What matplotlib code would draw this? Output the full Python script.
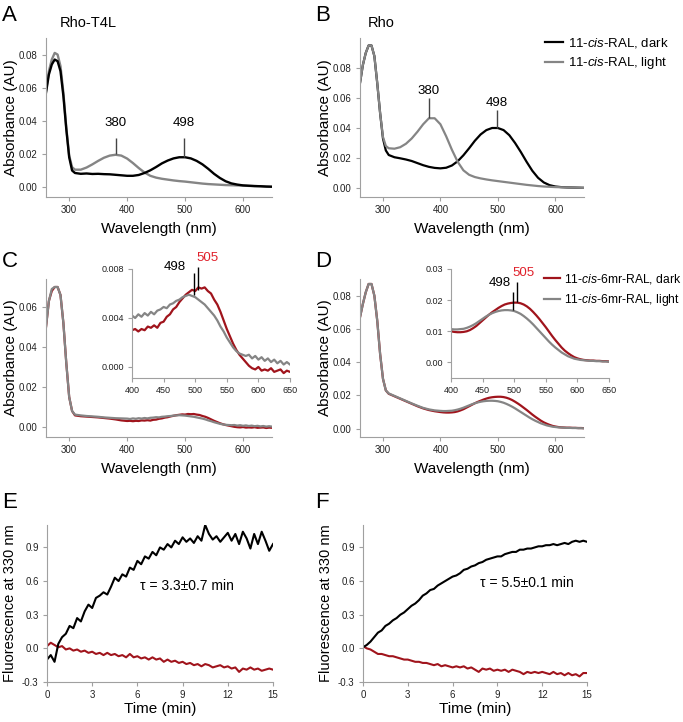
import numpy as np
import matplotlib
matplotlib.use("Agg")
import matplotlib.pyplot as plt

plt.rcParams['font.family'] = ['Liberation Sans', 'DejaVu Sans']
plt.rcParams['mathtext.fontset'] = 'custom'
plt.rcParams['mathtext.rm'] = 'Liberation Sans'
plt.rcParams['mathtext.it'] = 'Liberation Sans:italic'

# ---------------- data ----------------
wl45 = [260, 265, 270, 275, 280, 285, 290, 295, 300, 305, 310,
        320, 330, 340, 350, 360, 370, 380, 390, 400, 410, 420, 430, 440, 450,
        460, 470, 480, 490, 500, 510, 520, 530, 540, 550, 560, 570, 580, 590,
        600, 610, 620, 630, 640, 650]

A_dark = [0.057, 0.068, 0.074, 0.077, 0.076, 0.070, 0.055, 0.035, 0.018, 0.010, 0.0085,
          0.0080, 0.0082, 0.0079, 0.0080, 0.0078, 0.0077, 0.0074, 0.0071, 0.0068, 0.0068,
          0.0073, 0.0085, 0.0101, 0.0121, 0.0143, 0.0160, 0.0173, 0.0180, 0.0180, 0.0173,
          0.0158, 0.0137, 0.0110, 0.0080, 0.0055, 0.0035, 0.0022, 0.0015, 0.0010, 0.0008,
          0.0006, 0.0005, 0.0003, 0.0002]
A_light = [0.058, 0.070, 0.077, 0.081, 0.080, 0.073, 0.057, 0.036, 0.019, 0.012, 0.0105,
           0.0105, 0.0118, 0.0137, 0.0158, 0.0177, 0.0190, 0.0195, 0.0190, 0.0172, 0.0145,
           0.0115, 0.0088, 0.0068, 0.0057, 0.0050, 0.0045, 0.0040, 0.0036, 0.0033, 0.0029,
           0.0025, 0.0021, 0.0018, 0.0016, 0.0014, 0.0012, 0.0011, 0.0010, 0.0009, 0.0007,
           0.0006, 0.0005, 0.0003, 0.0002]

B_dark = [0.070, 0.082, 0.090, 0.095, 0.095, 0.088, 0.070, 0.050, 0.033, 0.025, 0.022,
          0.0205, 0.0198, 0.0190, 0.0180, 0.0166, 0.0152, 0.0141, 0.0134, 0.0131, 0.0135,
          0.0150, 0.0178, 0.0218, 0.0265, 0.0315, 0.0357, 0.0386, 0.0400, 0.0400, 0.0386,
          0.0352, 0.0300, 0.0240, 0.0175, 0.0115, 0.0068, 0.0037, 0.0019, 0.0010, 0.0006,
          0.0004, 0.0003, 0.0002, 0.0001]
B_light = [0.070, 0.082, 0.090, 0.095, 0.095, 0.088, 0.070, 0.050, 0.034, 0.028, 0.0265,
           0.0262, 0.0272, 0.0295, 0.0330, 0.0375, 0.0425, 0.0465, 0.0465, 0.0425, 0.0345,
           0.0255, 0.0175, 0.0118, 0.0088, 0.0073, 0.0064, 0.0057, 0.0051, 0.0046, 0.0041,
           0.0036, 0.0031, 0.0026, 0.0021, 0.0017, 0.0013, 0.0010, 0.0008, 0.0006, 0.0005,
           0.0004, 0.0003, 0.0002, 0.0001]

wl70 = ([260, 265, 270, 275, 280, 285, 290, 295, 300, 305, 310,
         320, 330, 340, 350, 360, 370, 380, 390] +
        [400 + 5 * i for i in range(51)])

C_dark = [0.050, 0.063, 0.068, 0.070, 0.070, 0.066, 0.052, 0.032, 0.015, 0.008, 0.0058,
          0.0054, 0.0052, 0.0050, 0.0048, 0.0045, 0.0042, 0.0038, 0.0033,
          0.0030, 0.0031, 0.0029, 0.0031, 0.0030, 0.0033, 0.0032, 0.0034, 0.0032, 0.0036,
          0.0037, 0.0041, 0.0043, 0.0047, 0.0049, 0.0053, 0.0056, 0.0059, 0.0061, 0.0063,
          0.0062, 0.0065, 0.0064, 0.0065, 0.0062, 0.0060, 0.0055, 0.0051, 0.0045, 0.0038,
          0.0031, 0.0025, 0.0019, 0.0014, 0.0010, 0.0007, 0.0004, 0.0001, -0.0001, -0.0002,
          0.0000, -0.0003, -0.0002, -0.0003, -0.0001, -0.0004, -0.0003, -0.0002, -0.0005, -0.0003,
          -0.0004]
C_light = [0.050, 0.063, 0.069, 0.070, 0.070, 0.066, 0.052, 0.032, 0.015, 0.008, 0.0062,
           0.0058, 0.0055, 0.0053, 0.0051, 0.0048, 0.0046, 0.0044, 0.0043,
           0.0042, 0.0040, 0.0043, 0.0041, 0.0044, 0.0042, 0.0045, 0.0043, 0.0046, 0.0047,
           0.0049, 0.0048, 0.0051, 0.0052, 0.0054, 0.0055, 0.0057, 0.0058, 0.0059, 0.0058,
           0.0057, 0.0055, 0.0053, 0.0051, 0.0048, 0.0045, 0.0042, 0.0038, 0.0033, 0.0029,
           0.0024, 0.0020, 0.0016, 0.0013, 0.0011, 0.0010, 0.0009, 0.0010, 0.0007, 0.0009,
           0.0006, 0.0008, 0.0005, 0.0007, 0.0004, 0.0006, 0.0003, 0.0005, 0.0002, 0.0004,
           0.0002]

D_dark = [0.067, 0.075, 0.082, 0.087, 0.087, 0.080, 0.065, 0.045, 0.030, 0.023, 0.021,
          0.0195, 0.0180, 0.0165, 0.0150, 0.0135, 0.0122, 0.0112, 0.0105,
          0.0100, 0.0098, 0.0097, 0.0097, 0.0098, 0.0100, 0.0104, 0.0110, 0.0117, 0.0126,
          0.0135, 0.0144, 0.0153, 0.0161, 0.0168, 0.0175, 0.0181, 0.0186, 0.0189, 0.0191,
          0.0192, 0.0192, 0.0190, 0.0186, 0.0180, 0.0172, 0.0162, 0.0151, 0.0139, 0.0126,
          0.0113, 0.0099, 0.0085, 0.0072, 0.0060, 0.0048, 0.0038, 0.0030, 0.0023, 0.0017,
          0.0013, 0.0010, 0.0008, 0.0007, 0.0006, 0.0006, 0.0005, 0.0005, 0.0004, 0.0004,
          0.0003]
D_light = [0.067, 0.075, 0.082, 0.087, 0.087, 0.080, 0.065, 0.045, 0.030, 0.023, 0.0212,
           0.0197, 0.0182, 0.0167, 0.0152, 0.0138, 0.0125, 0.0116, 0.0110,
           0.0107, 0.0106, 0.0106, 0.0107, 0.0108, 0.0111, 0.0115, 0.0120, 0.0126, 0.0133,
           0.0140, 0.0147, 0.0153, 0.0158, 0.0162, 0.0165, 0.0167, 0.0168, 0.0168, 0.0167,
           0.0165, 0.0161, 0.0156, 0.0149, 0.0141, 0.0132, 0.0122, 0.0111, 0.0100, 0.0089,
           0.0078, 0.0067, 0.0057, 0.0048, 0.0040, 0.0032, 0.0026, 0.0020, 0.0016, 0.0012,
           0.0010, 0.0008, 0.0007, 0.0006, 0.0005, 0.0005, 0.0004, 0.0004, 0.0003, 0.0003,
           0.0002]

time = [0.25 * i for i in range(61)]
E_active = [-0.10, -0.06, -0.12, 0.04, 0.10, 0.13, 0.20, 0.18, 0.27, 0.24, 0.33, 0.39,
            0.36, 0.45, 0.47, 0.50, 0.48, 0.55, 0.63, 0.60, 0.66, 0.64, 0.72, 0.70,
            0.78, 0.75, 0.82, 0.80, 0.86, 0.83, 0.90, 0.88, 0.93, 0.90, 0.96, 0.93,
            0.99, 0.95, 0.98, 0.94, 1.00, 0.96, 1.10, 1.02, 0.97, 1.00, 0.95, 0.99,
            1.03, 0.96, 1.02, 0.93, 1.04, 0.98, 0.89, 1.02, 0.93, 1.04, 0.96, 0.87, 0.93]
E_dark = [0.02, 0.05, 0.03, 0.01, 0.02, -0.01, 0.00, -0.02, -0.01, -0.03, -0.02, -0.04,
          -0.03, -0.05, -0.04, -0.06, -0.04, -0.06, -0.05, -0.07, -0.06, -0.08, -0.05, -0.08,
          -0.07, -0.09, -0.08, -0.10, -0.08, -0.10, -0.09, -0.12, -0.10, -0.12, -0.11, -0.13,
          -0.12, -0.14, -0.13, -0.15, -0.14, -0.16, -0.14, -0.15, -0.17, -0.16, -0.15, -0.17,
          -0.16, -0.18, -0.17, -0.21, -0.18, -0.19, -0.17, -0.19, -0.18, -0.20, -0.19, -0.18, -0.19]
F_active = [0.01, 0.03, 0.06, 0.10, 0.14, 0.16, 0.20, 0.22, 0.25, 0.27, 0.30, 0.32,
            0.35, 0.38, 0.40, 0.43, 0.47, 0.49, 0.52, 0.53, 0.56, 0.58, 0.60, 0.62,
            0.64, 0.65, 0.67, 0.70, 0.71, 0.73, 0.74, 0.76, 0.77, 0.79, 0.80, 0.81,
            0.82, 0.82, 0.84, 0.85, 0.86, 0.86, 0.88, 0.88, 0.89, 0.89, 0.90, 0.91,
            0.91, 0.92, 0.92, 0.93, 0.92, 0.93, 0.94, 0.93, 0.95, 0.96, 0.95, 0.96, 0.95]
F_dark = [0.02, 0.00, -0.01, -0.03, -0.05, -0.05, -0.06, -0.07, -0.07, -0.08, -0.09, -0.10,
          -0.10, -0.11, -0.12, -0.12, -0.13, -0.13, -0.14, -0.15, -0.14, -0.16, -0.15, -0.16,
          -0.17, -0.16, -0.17, -0.16, -0.18, -0.17, -0.19, -0.21, -0.18, -0.19, -0.18, -0.20,
          -0.19, -0.20, -0.19, -0.21, -0.19, -0.20, -0.21, -0.23, -0.21, -0.22, -0.21, -0.22,
          -0.21, -0.22, -0.23, -0.21, -0.23, -0.22, -0.24, -0.22, -0.24, -0.23, -0.25, -0.22, -0.22]

labels_B = ['11-$\\it{cis}$-RAL, dark', '11-$\\it{cis}$-RAL, light']
labels_D = ['11-$\\it{cis}$-6mr-RAL, dark', '11-$\\it{cis}$-6mr-RAL, light']
peaks_AB = [380, 498]
peaks_CD = [498, 505]

BLACK = '#000000'
GRAY = '#858585'
RED = '#a0141c'
BRIGHT_RED = '#e0202a'
SPINE = '#a0a0a0'

W, H = 683, 722
fig = plt.figure(figsize=(W / 100, H / 100), dpi=100)


def add_ax(x0, x1, y0, y1):
    return fig.add_axes([x0 / W, 1 - y1 / H, (x1 - x0) / W, (y1 - y0) / H])


def style(ax, lsize=7):
    for s in ['top', 'right']:
        ax.spines[s].set_visible(False)
    for s in ['left', 'bottom']:
        ax.spines[s].set_color(SPINE)
        ax.spines[s].set_linewidth(0.8)
    ax.tick_params(direction='out', length=3, width=0.8, color=SPINE,
                   labelsize=lsize, labelcolor='#222222', pad=3)


def spectrum_axes(ax, ylim, yticks):
    style(ax)
    ax.set_xlim(260, 650)
    ax.set_ylim(*ylim)
    ax.set_xticks([300, 400, 500, 600])
    ax.set_yticks(yticks)
    ax.set_yticklabels([f'{v:.2f}' for v in yticks])
    ax.set_xlabel('Wavelength (nm)', fontsize=11)
    ax.xaxis.set_label_coords(0.5, -0.2)
    ax.xaxis.label.set_va('center')
    ax.set_ylabel('Absorbance (AU)', fontsize=11)
    ax.yaxis.set_label_coords(-0.155, 0.5)
    ax.yaxis.label.set_va('center')


# ---- A ----
axA = add_ax(46, 272, 38, 197)
axA.plot(wl45, A_light, color=GRAY, lw=1.7)
axA.plot(wl45, A_dark, color=BLACK, lw=1.7)
spectrum_axes(axA, (-0.006, 0.09), [0.0, 0.02, 0.04, 0.06, 0.08])
axA.vlines(peaks_AB[0], 0.0197, 0.0296, color='#444444', lw=1)
axA.vlines(peaks_AB[1], 0.0183, 0.0296, color='#444444', lw=1)
for p in peaks_AB:
    axA.text(p, 0.0385, str(p), ha='center', va='center', fontsize=9.5)
axA.text(0.06, 1.07, 'Rho-T4L', transform=axA.transAxes, fontsize=10.5, va='baseline')

# ---- B ----
axB = add_ax(360, 584, 38, 197)
axB.plot(wl45, B_dark, color=BLACK, lw=1.6, label=labels_B[0])
axB.plot(wl45, B_light, color=GRAY, lw=1.6, label=labels_B[1])
spectrum_axes(axB, (-0.006, 0.10), [0.0, 0.02, 0.04, 0.06, 0.08])
axB.vlines(peaks_AB[0], 0.0470, 0.0600, color='#444444', lw=1)
axB.vlines(peaks_AB[1], 0.0403, 0.0520, color='#444444', lw=1)
axB.text(peaks_AB[0], 0.0647, '380', ha='center', va='center', fontsize=9.5)
axB.text(peaks_AB[1], 0.0567, '498', ha='center', va='center', fontsize=9.5)
axB.text(0.035, 1.07, 'Rho', transform=axB.transAxes, fontsize=10.5, va='baseline')
axB.legend(loc='upper left', bbox_to_anchor=(545 / W, 1 - 36 / H),
           bbox_transform=fig.transFigure, frameon=False, fontsize=9.5,
           handlelength=1.4, handletextpad=0.35, labelspacing=0.4, borderpad=0,
           borderaxespad=0)

# ---- C ----
axC = add_ax(46, 272, 279, 437)
axC.plot(wl70, C_dark, color=RED, lw=1.6)
axC.plot(wl70, C_light, color=GRAY, lw=1.6)
spectrum_axes(axC, (-0.005, 0.074), [0.0, 0.02, 0.04, 0.06])

axCi = add_ax(132, 290, 269, 378)
axCi.set_facecolor('none')
axCi.plot(wl70, C_dark, color=RED, lw=1.6)
axCi.plot(wl70, C_light, color=GRAY, lw=1.6)
style(axCi, lsize=6.5)
axCi.set_xlim(400, 650)
axCi.set_ylim(-0.0009, 0.008)
axCi.set_xticks([400, 450, 500, 550, 600, 650])
axCi.set_yticks([0.0, 0.004, 0.008])
axCi.set_yticklabels(['0.000', '0.004', '0.008'])
axCi.vlines(peaks_CD[0], 0.00588, 0.00767, color=BLACK, lw=1, clip_on=False)
axCi.vlines(peaks_CD[1], 0.00629, 0.00816, color=BLACK, lw=1, clip_on=False)
axCi.text(468, 0.00816, '498', ha='center', va='center', fontsize=9.5, clip_on=False)
axCi.text(519, 0.0089, '505', ha='center', va='center', fontsize=9.5,
          color=BRIGHT_RED, clip_on=False)

# ---- D ----
axD = add_ax(360, 584, 279, 437)
axD.plot(wl70, D_dark, color=RED, lw=1.6, label=labels_D[0])
axD.plot(wl70, D_light, color=GRAY, lw=1.6, label=labels_D[1])
spectrum_axes(axD, (-0.005, 0.09), [0.0, 0.02, 0.04, 0.06, 0.08])

axDi = add_ax(451, 609, 269, 378)
axDi.set_facecolor('none')
axDi.plot(wl70, D_dark, color=RED, lw=1.6)
axDi.plot(wl70, D_light, color=GRAY, lw=1.6)
style(axDi, lsize=6.5)
axDi.set_xlim(400, 650)
axDi.set_ylim(-0.005, 0.03)
axDi.set_xticks([400, 450, 500, 550, 600, 650])
axDi.set_yticks([0.0, 0.01, 0.02, 0.03])
axDi.set_yticklabels(['0.00', '0.01', '0.02', '0.03'])
axDi.vlines(peaks_CD[0], 0.0167, 0.0227, color=BLACK, lw=1, clip_on=False)
axDi.vlines(peaks_CD[1], 0.0193, 0.0259, color=BLACK, lw=1, clip_on=False)
axDi.text(477, 0.0255, '498', ha='center', va='center', fontsize=9.5)
axDi.text(514, 0.0287, '505', ha='center', va='center', fontsize=9.5, color=BRIGHT_RED)
hD, lD = axD.get_legend_handles_labels()
axDi.legend(hD, lD, loc='upper left', bbox_to_anchor=(544 / W, 1 - 272 / H),
            bbox_transform=fig.transFigure, frameon=False, fontsize=8.7,
            handlelength=1.35, handletextpad=0.3, labelspacing=0.5, borderpad=0,
            borderaxespad=0)


# ---- E / F ----
def kinetics_axes(ax):
    style(ax)
    ax.set_xlim(0, 15)
    ax.set_ylim(-0.3, 1.1)
    ax.set_xticks([0, 3, 6, 9, 12, 15])
    yt = [-0.3, 0.0, 0.3, 0.6, 0.9]
    ax.set_yticks(yt)
    ax.set_yticklabels([f'{v:.1f}' for v in yt])
    ax.set_xlabel('Time (min)', fontsize=11)
    ax.xaxis.set_label_coords(0.5, -0.17)
    ax.xaxis.label.set_va('center')
    ax.set_ylabel('Fluorescence at 330 nm', fontsize=10.5)
    ax.yaxis.set_label_coords(-0.165, 0.5)
    ax.yaxis.label.set_va('center')


axE = add_ax(47, 273, 525, 682)
axE.plot(time, E_dark, color=RED, lw=1.5)
axE.plot(time, E_active, color=BLACK, lw=1.5)
kinetics_axes(axE)
axE.text(9.3, 0.556, 'τ = 3.3±0.7 min', ha='center', va='center', fontsize=10)

axF = add_ax(363, 587, 525, 682)
axF.plot(time, F_dark, color=RED, lw=1.5)
axF.plot(time, F_active, color=BLACK, lw=1.5)
kinetics_axes(axF)
axF.text(11.0, 0.583, 'τ = 5.5±0.1 min', ha='center', va='center', fontsize=10)

# panel letters
for letter, x, y in [('A', 2, 21), ('B', 315, 21), ('C', 2, 267),
                     ('D', 315, 267), ('E', 2, 508), ('F', 315, 508)]:
    fig.text(x / W, 1 - y / H, letter, fontsize=16, va='baseline', ha='left')

fig.savefig('out.png', dpi=100)
